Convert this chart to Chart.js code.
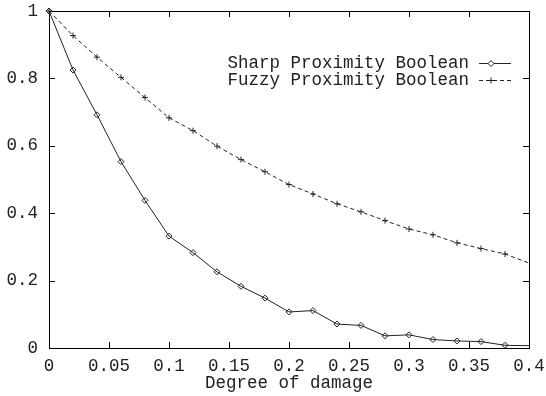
<!DOCTYPE html>
<html>
<head>
<meta charset="utf-8">
<script src="https://cdn.jsdelivr.net/npm/chart.js@4.4.1/dist/chart.umd.min.js"></script>
<style>
html, body { margin: 0; padding: 0; background: #fff; }
canvas { display: block; }
</style>
</head>
<body>
<canvas id="myChart" width="546" height="396"></canvas>
<script>
// degree of damage (x)
const damage = [0, 0.02, 0.04, 0.06, 0.08, 0.1, 0.12, 0.14, 0.16, 0.18, 0.2,
                0.22, 0.24, 0.26, 0.28, 0.3, 0.32, 0.34, 0.36, 0.38, 0.4]
const sharp = [1, 0.825, 0.692, 0.553, 0.438, 0.332, 0.283, 0.226, 0.183, 0.148, 0.107,
               0.111, 0.071, 0.067, 0.036, 0.039, 0.025, 0.021, 0.019, 0.008, 0.007]
const fuzzy = [1, 0.927, 0.863, 0.803, 0.743, 0.683, 0.645, 0.599, 0.559, 0.523, 0.485,
               0.457, 0.428, 0.404, 0.378, 0.353, 0.336, 0.312, 0.295, 0.279, 0.252]
const xTicks = [0, 0.05, 0.1, 0.15, 0.2, 0.25, 0.3, 0.35, 0.4]
const xTickLabels = ['0', '0.05', '0.1', '0.15', '0.2', '0.25', '0.3', '0.35', '0.4']
const yTicks = [0, 0.2, 0.4, 0.6, 0.8, 1]
const yTickLabels = ['0', '0.2', '0.4', '0.6', '0.8', '1']
const seriesNames = ['Sharp Proximity Boolean', 'Fuzzy Proximity Boolean']

const FONT = "'Liberation Mono', 'DejaVu Sans Mono', monospace"
const FSIZE = 17.5
const INK = '#222'

function toPoints(ys) {
    return damage.map((x, i) => ({ x: x, y: ys[i] }))
}
// last sample sits on the frame edge, gnuplot shows no marker there
function hideLast(ctx) {
    return ctx.dataIndex === damage.length - 1 ? 0 : 3
}

// inward ticks on all four sides + frame, like gnuplot
const frame = {
    id: 'frame',
    beforeDatasetsDraw(chart) {
        const c = chart.ctx
        const a = chart.chartArea
        const xs = chart.scales.x
        const ys = chart.scales.y
        const len = 6
        c.save()
        c.strokeStyle = '#000'
        c.lineWidth = 1
        c.beginPath()
        xTicks.forEach(v => {
            const px = Math.round(xs.getPixelForValue(v)) + 0.5
            c.moveTo(px, a.bottom); c.lineTo(px, a.bottom - len)
            c.moveTo(px, a.top); c.lineTo(px, a.top + len)
        })
        yTicks.forEach(v => {
            const py = Math.round(ys.getPixelForValue(v)) + 0.5
            c.moveTo(a.left, py); c.lineTo(a.left + len, py)
            c.moveTo(a.right, py); c.lineTo(a.right - len, py)
        })
        c.stroke()
        c.strokeRect(a.left + 0.5, a.top + 0.5, a.right - a.left, a.bottom - a.top)
        c.restore()
    }
}

// key: text right-aligned, sample line + marker to its right
const key = {
    id: 'key',
    afterDraw(chart) {
        const c = chart.ctx
        const textRight = 469
        const x0 = 479, x1 = 511, mx = 491
        const rows = [63, 80]
        c.save()
        chart.data.datasets.forEach((ds, i) => {
            const y = rows[i]
            c.font = FSIZE + 'px ' + FONT
            c.fillStyle = INK
            c.textAlign = 'right'
            c.textBaseline = 'middle'
            c.fillText(ds.label, textRight, y)
            c.strokeStyle = ds.borderColor
            c.lineWidth = ds.borderWidth
            c.setLineDash(ds.borderDash || [])
            c.beginPath()
            c.moveTo(x0, y + 0.5); c.lineTo(x1, y + 0.5)
            c.stroke()
            c.setLineDash([])
            c.fillStyle = '#fff'
            Chart.helpers.drawPoint(c, {
                pointStyle: ds.pointStyle, radius: 3, borderWidth: 1
            }, mx, y + 0.5)
        })
        c.restore()
    }
}

const data = {
    datasets: [{
        label: seriesNames[0],
        data: toPoints(sharp),
        borderColor: INK,
        backgroundColor: 'rgba(0,0,0,0)',
        borderWidth: 1,
        pointStyle: 'rectRot',
        pointRadius: hideLast,
        pointBorderColor: INK,
        pointBorderWidth: 1,
        pointBackgroundColor: 'rgba(0,0,0,0)',
        tension: 0,
        clip: false
    }, {
        label: seriesNames[1],
        data: toPoints(fuzzy),
        borderColor: INK,
        backgroundColor: 'rgba(0,0,0,0)',
        borderWidth: 1,
        borderDash: [4, 3],
        pointStyle: 'cross',
        pointRadius: hideLast,
        pointBorderColor: INK,
        pointBorderWidth: 1,
        tension: 0,
        clip: false
    }]
}

const config = {
    type: 'line',
    data: data,
    plugins: [frame, key],
    options: {
        responsive: false,
        animation: false,
        layout: { padding: { top: 11, right: 17, left: 0, bottom: 0 } },
        plugins: {
            legend: { display: false },
            tooltip: { enabled: false }
        },
        scales: {
            x: {
                type: 'linear',
                min: 0,
                max: 0.4,
                afterBuildTicks: (scale) => {
                    scale.ticks = xTicks.map(v => ({ value: v }))
                },
                afterFit: (scale) => {
                    scale.height = 48
                    scale.paddingLeft = 0
                    scale.paddingRight = 0
                },
                ticks: {
                    autoSkip: false,
                    maxRotation: 0,
                    padding: 8,
                    color: INK,
                    font: { family: FONT, size: FSIZE },
                    callback: (value, index) => xTickLabels[index]
                },
                grid: { display: false, drawTicks: false },
                border: { display: false },
                title: {
                    display: true,
                    text: 'Degree of damage',
                    color: INK,
                    font: { family: FONT, size: FSIZE },
                    padding: { top: 0, bottom: 2 }
                }
            },
            y: {
                type: 'linear',
                min: 0,
                max: 1,
                afterBuildTicks: (scale) => {
                    scale.ticks = yTicks.map(v => ({ value: v }))
                },
                afterFit: (scale) => {
                    scale.width = 49
                    scale.paddingTop = 0
                    scale.paddingBottom = 0
                },
                ticks: {
                    padding: 11,
                    color: INK,
                    font: { family: FONT, size: FSIZE },
                    callback: (value, index) => yTickLabels[index]
                },
                grid: { display: false, drawTicks: false },
                border: { display: false }
            }
        }
    }
}

var myChart = new Chart(document.getElementById('myChart'), config)
</script>
</body>
</html>
